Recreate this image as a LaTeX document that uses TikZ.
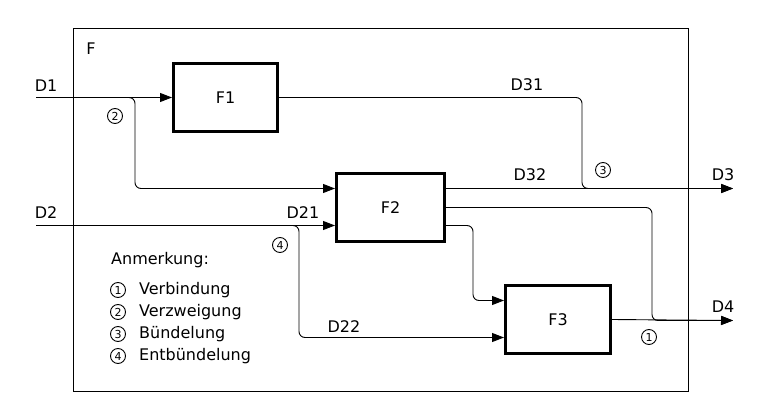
\documentclass[tikz,border=0pt]{standalone}
\usepackage{fontspec}
\setmainfont{DejaVu Sans}
\usetikzlibrary{positioning, arrows.meta, calc}

\begin{document}
\begin{tikzpicture}[x=1pt, y=-1pt, font=\fontsize{16}{19}\selectfont, >={Triangle[length=12pt, width=9pt]},
  func/.style={draw, line width=3pt, minimum width=104pt, minimum height=68pt, inner sep=0pt},
  flow/.style={line width=0.9pt, rounded corners=6pt},
  lbl/.style={inner sep=1pt},
  circmark/.style={draw, circle, line width=0.9pt, minimum size=15pt, inner sep=0pt, font=\fontsize{11}{11}\selectfont},
  legend/.style={anchor=west, inner sep=0pt}]
  \useasboundingbox (0,0) rectangle (773,403);
  % outer function frame
  \draw[line width=0.9pt] (73,28) rectangle (688,391);
  \node[lbl] (fname) at (91,49) {F};
  % function blocks
  \node[func] (f1) at (225.5,97.5) {F1};
  \node[func, minimum width=108pt] (f2) at (390.5,207.5) {F2};
  \node[func, minimum width=105pt] (f3) at (558,319.5) {F3};
  % free ends
  \coordinate (d1) at (36,97.5);
  \coordinate (d2) at (36,225.5);
  \coordinate (d3) at (733,188.5);
  \coordinate (d4) at (733,320.5);
  % inputs
  \draw[flow, ->] (d1) -- (f1.west);
  \draw[flow, ->] (d1) -- (135,97.5) |- ([yshift=19pt]f2.west);
  \draw[flow, ->] (d2) -- ([yshift=-18pt]f2.west);
  \draw[flow, ->] (d2) -- (299,225.5) |- ([yshift=-18pt]f3.west);
  % outputs
  \draw[flow, ->] ([yshift=19pt]f2.east) -- (d3);
  \draw[flow, ->] (f1.east) -- (582,97.5) |- (d3);
  \draw[flow, ->] (f2.east) -- (652,207.5) |- (d4);
  \draw[flow, ->] ([yshift=-18pt]f2.east) -- (473,225.5) |- ([yshift=19pt]f3.west);
  \draw[flow, ->] (f3.east) -- (d4);
  % data labels
  \node[lbl] (l1) at (46,86) {D1};
  \node[lbl] (l2) at (46,213) {D2};
  \node[lbl] (l31) at (527,85) {D31};
  \node[lbl] (l32) at (530,175) {D32};
  \node[lbl] (l21) at (303,213) {D21};
  \node[lbl] (l22) at (344,327) {D22};
  \node[lbl] (l3) at (723,175) {D3};
  \node[lbl] (l4) at (723,307) {D4};
  % circled marks
  \node[circmark] (c2) at (115,116) {2};
  \node[circmark] (c4) at (280,245) {4};
  \node[circmark] (c3) at (603,170) {3};
  \node[circmark] (c1) at (649,337) {1};
  % legend
  \node[legend] (anm) at (111,260) {Anmerkung:};
  \node[circmark] (k1) at (118,290) {1};
  \node[circmark] (k2) at (118,312) {2};
  \node[circmark] (k3) at (118,334) {3};
  \node[circmark] (k4) at (118,356) {4};
  \node[legend, right=13pt of k1] (a1) {Verbindung};
  \node[legend, right=13pt of k2] (a2) {Verzweigung};
  \node[legend, right=13pt of k3] (a3) {Bündelung};
  \node[legend, right=13pt of k4] (a4) {Entbündelung};
\end{tikzpicture}
\end{document}
